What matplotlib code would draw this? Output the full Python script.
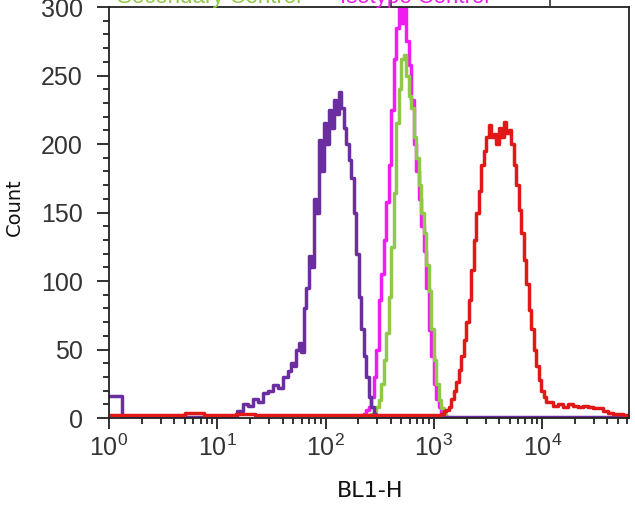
import matplotlib
matplotlib.use("Agg")
import matplotlib.pyplot as plt
from matplotlib.ticker import FixedLocator, FixedFormatter, LogLocator, NullFormatter, MultipleLocator
from matplotlib.lines import Line2D

plt.rcParams['mathtext.fontset'] = 'custom'
plt.rcParams['mathtext.rm'] = 'Liberation Sans'
plt.rcParams['mathtext.it'] = 'Liberation Sans'

# ---- data ----
purple_x = [1.0, 1.15, 1.25, 1.40, 5.0, 10.0, 14.0, 16.2, 18.0, 20.0, 22.3, 24.8, 27.6, 30.7, 34.1,
            37.9, 42.2, 46.9, 49.4, 52.1, 55.0, 58.0, 61.2, 64.5, 68.0, 71.8, 75.7, 79.8, 84.2,
            88.8, 93.6, 98.7, 104, 110, 116, 122, 129, 136, 143, 151, 159, 168, 177, 187, 197,
            208, 219, 231, 244, 257, 271, 286, 302, 1000, 10000, 63000]
purple_y = [16, 16, 16, 1, 1, 1, 1, 5, 10, 9, 14, 12, 18, 20, 24,
            22, 30, 34, 40, 38, 50, 55, 48, 80, 95, 118, 110, 160, 150,
            203, 180, 215, 200, 225, 212, 232, 222, 238, 226, 212, 200, 188, 175, 150, 120,
            88, 65, 45, 30, 15, 8, 3, 1, 1, 1, 1]

magenta_x = [208, 219, 231, 244, 257, 271, 286, 302, 318, 336, 354, 373, 393, 415, 437, 461,
             486, 513, 541, 570, 601, 634, 669, 705, 744, 784, 828, 873, 920, 971, 1024, 1080,
             1138, 1200, 1265, 1335]
magenta_y = [1, 2, 3, 6, 8, 15, 30, 50, 86, 105, 130, 158, 185, 225, 262, 285,
             302, 288, 300, 275, 258, 232, 200, 180, 160, 140, 122, 95, 64, 45, 25, 14,
             8, 4, 2, 0]

green_x = [244, 257, 271, 286, 302, 318, 336, 354, 373, 393, 415, 437, 461, 486, 513, 541,
           570, 601, 634, 669, 705, 744, 784, 828, 873, 920, 971, 1024, 1080, 1138, 1200,
           1265, 1335, 1408]
green_y = [1, 2, 3, 5, 8, 13, 25, 42, 62, 88, 125, 164, 215, 240, 262, 265,
           250, 235, 226, 205, 190, 170, 150, 135, 112, 93, 65, 42, 25, 13, 7,
           3, 1, 0]

red_x = [1.0, 2.0, 4.0, 6.0, 7.0, 8.0, 10.0, 20, 25, 30, 60, 100, 200, 500, 1000,
         1138, 1200, 1265, 1335, 1408, 1485, 1566, 1651, 1741, 1836, 1936, 2042, 2153, 2271,
         2396, 2526, 2665, 2810, 2964, 3126, 3296, 3476, 3666, 3866, 4077, 4300, 4535, 4783,
         5044, 5320, 5610, 5917, 6239, 6580, 6939, 7318, 7718, 8140, 8584, 9053, 9547, 10070,
         10620, 11200, 11810, 13140, 14600, 16240, 18060, 20090, 22340, 24840, 27630, 30730,
         34190, 38020, 42290, 47030, 52310, 58180, 63250]
red_y = [2, 2, 2, 4, 4, 2, 2, 3, 2, 2, 2, 2, 2, 2, 2,
         2, 3, 5, 6, 8, 14, 20, 26, 35, 45, 57, 70, 86, 108,
         130, 150, 166, 185, 195, 205, 214, 205, 207, 200, 212, 205, 216, 208,
         210, 200, 185, 170, 152, 135, 115, 98, 79, 65, 50, 38, 28, 20,
         15, 12, 12, 9, 10, 8, 10, 9, 8, 9, 8, 7,
         7, 5, 4, 3, 3, 2, 2]

x_major = [1, 10, 100, 1000, 10000]
x_labels = [r'$\mathregular{10^{0}}$', r'$\mathregular{10^{1}}$', r'$\mathregular{10^{2}}$',
            r'$\mathregular{10^{3}}$', r'$\mathregular{10^{4}}$']
legend_names = ['Secondary Control', 'Isotype Control']

PURPLE = '#6a2ea0'
MAGENTA = '#f01cf0'
GREEN = '#92c84a'
RED = '#e01818'

W, H = 635, 524
fig = plt.figure(figsize=(W / 100, H / 100), dpi=100)
left, right, top, bottom = 109, 629, 6.5, 418
ax = fig.add_axes([left / W, 1 - bottom / H, (right - left) / W, (bottom - top) / H])

lw = 2.5
ax.step(magenta_x, magenta_y, where='mid', color=MAGENTA, lw=lw)
ax.step(green_x, green_y, where='mid', color=GREEN, lw=lw)
ax.step(purple_x, purple_y, where='mid', color=PURPLE, lw=lw)
ax.step(red_x, red_y, where='mid', color=RED, lw=lw)

ax.set_xscale('log')
ax.set_xlim(1, 63250)
ax.set_ylim(0, 300.4)

ax.xaxis.set_major_locator(FixedLocator(x_major))
ax.xaxis.set_major_formatter(FixedFormatter(x_labels))
ax.xaxis.set_minor_locator(LogLocator(base=10, subs=[2, 3, 4, 5, 6, 7, 8, 9], numticks=20))
ax.xaxis.set_minor_formatter(NullFormatter())
ax.yaxis.set_major_locator(MultipleLocator(50))
ax.yaxis.set_minor_locator(MultipleLocator(10))

ax.tick_params(which='both', direction='out', top=False, right=False, color='#222222', width=1.3)
ax.tick_params(which='major', length=8)
ax.tick_params(which='minor', length=4.5)
ax.tick_params(axis='y', which='major', length=9, labelsize=18, pad=10, labelcolor='#333333')
ax.tick_params(axis='x', which='major', labelsize=18, pad=4, labelcolor='#333333')
for lab in ax.get_yticklabels() + ax.get_xticklabels():
    lab.set_family('Liberation Sans')
for s in ax.spines.values():
    s.set_linewidth(1.3)
    s.set_color('#222222')

fig.text(370 / W, 1 - 491 / H, 'BL1-H', ha='center', va='center', fontsize=16,
         family='DejaVu Sans', color='#111111')
fig.text(14 / W, 1 - 207 / H, 'Count', ha='center', va='center', rotation=90, fontsize=14,
         family='DejaVu Sans', color='#111111')

# cropped legend box at the very top
fig.text(117 / W, 1 - 3.5 / H, legend_names[0], ha='left', va='baseline', fontsize=16,
         family='Liberation Sans', color=GREEN)
fig.text(340 / W, 1 - 3.5 / H, legend_names[1], ha='left', va='baseline', fontsize=16,
         family='Liberation Sans', color=MAGENTA)
for xp in (391, 550):
    fig.add_artist(Line2D([xp / W, xp / W], [1 - top / H, 1.0], color='#333333', lw=1.2))

fig.savefig('out.png', dpi=100)
